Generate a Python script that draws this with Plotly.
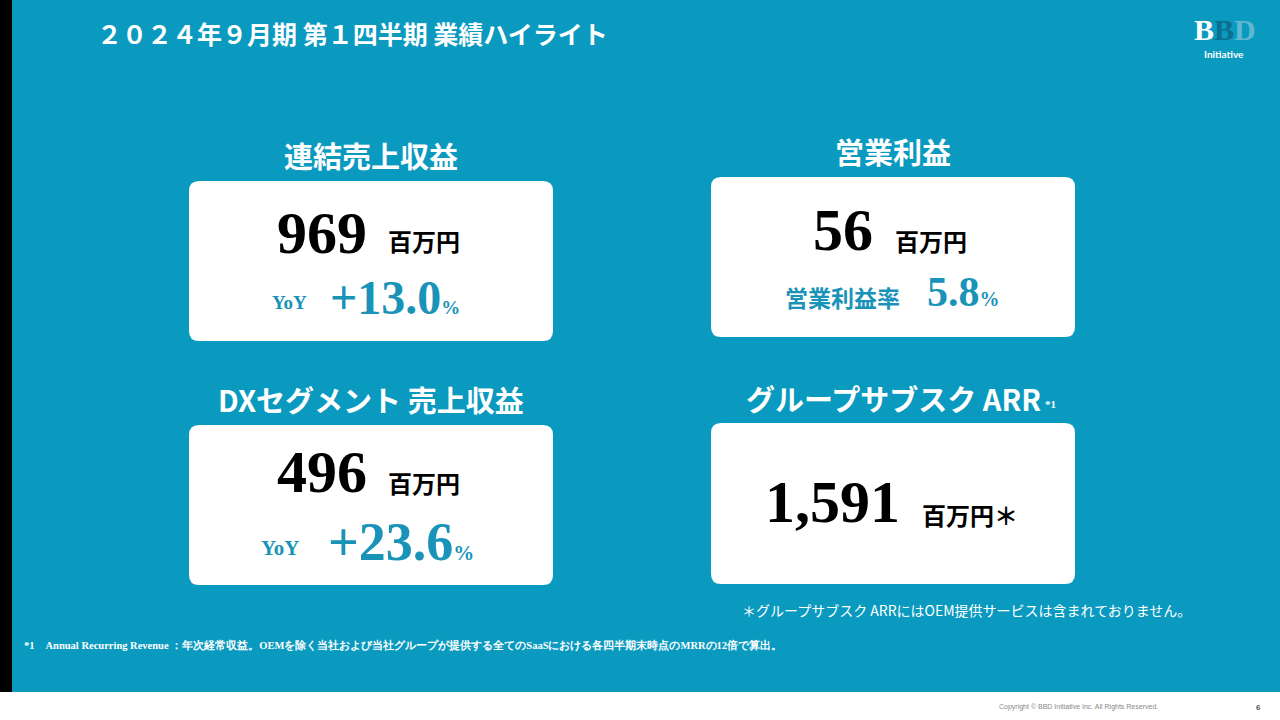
import plotly.graph_objects as go

W, H = 1280, 720
titles = ["連結売上収益", "営業利益", "DXセグメント 売上収益", "グループサブスク ARR"]
values = ["969", "56", "496", "1,591"]
sub_labels = ["YoY", "営業利益率", "YoY", ""]
sub_values = ["+13.0", "5.8", "+23.6", ""]

TEAL = "#0A9AC0"
fig = go.Figure()
shapes, ann = [], []
def px(x): return x / W
def py(y): return 1 - y / H
def rect(x0, y0, x1, y1, color):
    shapes.append(dict(type="rect", xref="paper", yref="paper", x0=px(x0), x1=px(x1), y0=py(y1), y1=py(y0),
                       fillcolor=color, line=dict(width=0), layer="below"))
def text(x, y, t, size, color="black", font="Noto Sans CJK JP", anchor="center", bold=False):
    if bold: t = "<b>" + t + "</b>"
    ann.append(dict(xref="paper", yref="paper", x=px(x), y=py(y), text=t, showarrow=False,
                    xanchor=anchor, yanchor="middle", font=dict(size=size, color=color, family=font)))

rect(0, 0, 1280, 720, TEAL)
rect(0, 0, 12, 692, "black")
rect(0, 692, 1280, 720, "white")
text(95, 33, "２０２４年９月期 第１四半期 業績ハイライト", 25, "white", anchor="left", bold=True)
text(1225, 30, "B<span style='color:#0B6F8F'>B</span><span style='color:#5FB8D0'>D</span>", 30, "white", font="Liberation Serif", bold=True)
text(1224, 54, "Initiative", 10, "white", font="Lato", bold=True)

cards = [(189, 181, 553, 341), (711, 177, 1075, 337), (189, 425, 553, 585), (711, 423, 1075, 584)]
title_y = [155, 151, 399, 398]
r = 10
for i, (x0, y0, x1, y1) in enumerate(cards):
    shapes.append(dict(type="path", xref="paper", yref="paper",
        path=f"M {px(x0+r)},{py(y0)} L {px(x1-r)},{py(y0)} Q {px(x1)},{py(y0)} {px(x1)},{py(y0+r)} L {px(x1)},{py(y1-r)} Q {px(x1)},{py(y1)} {px(x1-r)},{py(y1)} L {px(x0+r)},{py(y1)} Q {px(x0)},{py(y1)} {px(x0)},{py(y1-r)} L {px(x0)},{py(y0+r)} Q {px(x0)},{py(y0)} {px(x0+r)},{py(y0)} Z",
        fillcolor="white", line=dict(width=0), layer="below"))
    text((x0 + x1) / 2, title_y[i], titles[i], 29, "white", bold=True)
text(1043, 404, "*1", 11, "white", font="Liberation Serif", anchor="left", bold=True)

text(322, 233, values[0], 60, font="Liberation Serif", bold=True)
text(386, 241, "百万円", 24, bold=True, anchor="left")
text(843, 230, values[1], 60, font="Liberation Serif", bold=True)
text(893, 241, "百万円", 24, bold=True, anchor="left")
text(322, 472, values[2], 60, font="Liberation Serif", bold=True)
text(386, 483, "百万円", 24, bold=True, anchor="left")
text(832, 502, values[3], 60, font="Liberation Serif", bold=True)
text(920, 514, "百万円＊", 24, bold=True, anchor="left")

B = "#1A93B8"
text(270, 302, sub_labels[0], 19, B, font="Liberation Serif", anchor="left", bold=True)
text(328, 297, sub_values[0] + "<span style='font-size:19px'>%</span>", 48, B, font="Liberation Serif", anchor="left", bold=True)
text(783, 297, sub_labels[1], 23, B, anchor="left", bold=True)
text(925, 292, sub_values[1] + "<span style='font-size:20px'>%</span>", 42, B, font="Liberation Serif", anchor="left", bold=True)
text(259, 548, sub_labels[2], 21, B, font="Liberation Serif", anchor="left", bold=True)
text(326, 542, sub_values[2] + "<span style='font-size:21px'>%</span>", 54, B, font="Liberation Serif", anchor="left", bold=True)

text(740, 610, "＊グループサブスク ARRにはOEM提供サービスは含まれておりません。", 14, "white", anchor="left")
text(22, 645, "*1　Annual Recurring Revenue ：年次経常収益。OEMを除く当社および当社グループが提供する全てのSaaSにおける各四半期末時点のMRRの12倍で算出。", 10.5, "white", font="Liberation Serif", anchor="left", bold=True)
text(1160, 707, "Copyright © BBD Initiative Inc. All Rights Reserved.", 7, "#888888", font="Liberation Sans", anchor="right")
text(1258, 707, "6", 8, "#555555", font="Liberation Sans", bold=True)

fig.update_layout(width=W, height=H, margin=dict(l=0, r=0, t=0, b=0), shapes=shapes, annotations=ann,
                  paper_bgcolor=TEAL, plot_bgcolor=TEAL,
                  xaxis=dict(visible=False), yaxis=dict(visible=False), showlegend=False)
fig.write_html("out.html", config={"displayModeBar": False})
with open("out.html", encoding="utf-8") as f:
    html = f.read()
html = html.replace("<head>", "<head><style>html,body{margin:0;padding:0;overflow:hidden;}</style>", 1)
with open("out.html", "w", encoding="utf-8") as f:
    f.write(html)
